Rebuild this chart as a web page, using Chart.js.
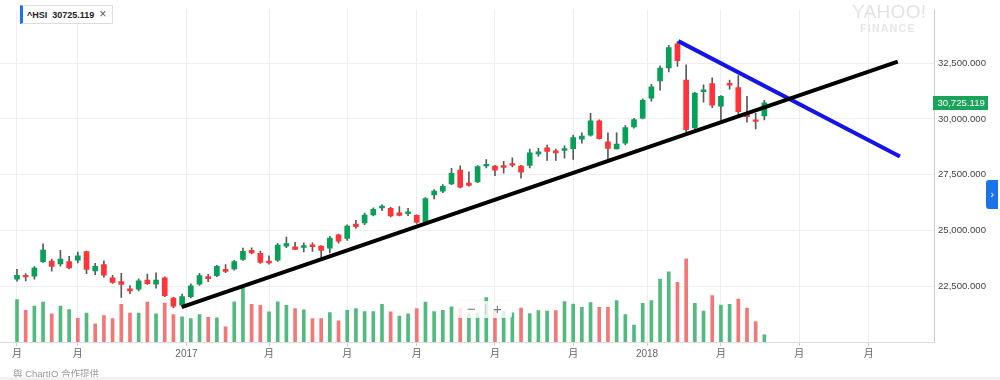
<!DOCTYPE html>
<html><head><meta charset="utf-8">
<script src="https://cdn.jsdelivr.net/npm/chart.js@4"></script>
<style>
html,body{margin:0;padding:0;background:#fff;}
#wrap{position:relative;width:1000px;height:380px;overflow:hidden;font-family:"Liberation Sans",Arial,"Noto Sans CJK TC",sans-serif;}
#c{position:absolute;left:0;top:0;}
#legend{position:absolute;left:20px;top:5px;height:17px;line-height:17px;border:1px solid #dcdcdc;border-left:3px solid #1a73e8;background:#fff;padding:0 6px 0 4px;font-size:9px;font-weight:bold;color:#222;white-space:nowrap;}
#legend .x{font-weight:normal;font-size:12px;color:#555;margin-left:5px;}
#wm1{position:absolute;left:852px;top:1px;font-size:19px;color:#e3e3e3;letter-spacing:0.3px;}
#wm2{position:absolute;left:860px;top:22px;font-size:10.5px;font-weight:bold;color:#e6e6e6;letter-spacing:1.3px;}
#tab{position:absolute;left:986px;top:180px;width:12px;height:29px;background:#1a73e8;border-radius:3px 0 0 3px;color:#fff;font-size:11px;line-height:29px;text-align:center;}
#zoom{position:absolute;left:458px;top:301px;width:54px;height:17px;background:rgba(255,255,255,0.82);border-radius:2px;box-shadow:0 0 2px rgba(0,0,0,0.08);color:#777;font-size:15px;line-height:17px;}
#zoom .m{position:absolute;left:9px;top:-1px;}
#zoom .d{position:absolute;left:27px;top:3px;width:1px;height:11px;background:#ccc;}
#zoom .p{position:absolute;left:35px;top:-1px;}
#credit{position:absolute;left:13px;top:366px;font-size:9.5px;color:#9a9a9a;}
#band{position:absolute;left:0;top:377px;width:1000px;height:3px;background:#f1f1f1;}
</style></head>
<body><div id="wrap">
<canvas id="c" width="1000" height="380"></canvas>
<div id="legend">^HSI&nbsp; 30725.119<span class="x">×</span></div>
<div id="wm1">YAHOO!</div>
<div id="wm2">FINANCE</div>
<div id="tab">›</div>
<div id="zoom"><span class="m">−</span><span class="d"></span><span class="p">+</span></div>
<div id="credit">與 ChartIQ 合作提供</div>
<div id="band"></div>
</div>
<script>
// Weekly ^HSI candles (week index 0..86)
const open  = [22820,22994,22950,23603,23629,23499,23603,23673,24052,23194,23473,22876,22715,22384,22367,22776,22600,22876,21975,21657,22036,22600,22932,22976,23255,23281,23703,24108,23978,23629,23673,24300,24270,24239,24356,24300,24213,24805,24648,25284,25345,25693,26011,25998,25793,25749,25676,25388,26590,26764,27086,27709,27130,27173,27896,27883,27914,28001,27883,27914,28436,28710,28567,28593,28667,29089,29276,29916,28972,28654,28915,29638,30030,30931,31702,32281,33369,31745,29594,31222,31584,30569,31597,31410,30221,29960,30134];
const high  = [23255,23064,23385,24400,23716,24108,23847,24038,24082,23529,23646,22994,23081,22528,22833,23050,23107,22919,22005,22149,22615,23081,23037,23442,23473,23660,24213,24226,24082,23864,24413,24705,24473,24443,24443,24326,24735,24835,25258,25458,25780,26011,26155,26041,26068,25998,25706,26477,26838,27056,27783,27896,27635,27914,28175,27926,28101,28262,27926,28654,28680,28828,28654,28797,29276,29377,30247,29960,29377,29377,29699,30030,30901,31553,32381,33295,33469,32424,31192,31527,31845,31048,31745,31945,31018,30247,30831];
const low   = [22733,22745,22820,23573,23181,23398,23281,23542,23064,23020,22907,22628,22005,22166,22297,22584,22410,22036,21539,21600,21975,22541,22702,22932,23107,23224,23660,23951,23529,23486,23616,24226,24139,24038,24065,23777,23995,24430,24561,25096,25258,25649,25894,25606,25649,25662,25315,25345,26416,26694,27056,26912,26982,27143,27809,27461,27565,27853,27347,27809,28332,28144,28144,28244,28188,28915,29233,29089,28218,28654,28841,29582,30003,30800,31292,32106,32355,29407,29407,30757,30508,29930,31336,30104,29855,29551,29960];
const close = [22994,22919,23311,24125,23385,23716,23325,23864,23255,23398,22994,22671,22584,22297,22745,22615,22776,22079,21613,22036,22515,22976,22845,23398,23168,23603,24065,23995,23573,23542,24343,24413,24152,24326,24270,24108,24661,24517,25197,25171,25693,25954,26098,25649,25676,25837,25357,26433,26764,26982,27565,26938,27025,27870,27970,27709,27826,27926,27609,28480,28523,28549,28480,28667,29159,29233,29916,29115,28680,28871,29612,29973,30831,31440,32281,33195,32616,29524,31162,31309,30613,31018,31510,30321,30104,29886,30725.119];
// weekly volume (relative units) and its colour (u = up, d = down)
const volume = [43.7,32.7,37,41,29,37,33.3,24.3,29.7,18.7,27.3,24,38.7,29.7,29.7,41,29,40,28.3,26,24,28.3,25.3,25,15.7,41.3,57,38.7,37.7,31,41.3,37.7,34.3,33,24,24,30.3,21.7,32.7,34.3,31.3,31.3,38.7,31,26.7,29,34.3,41,31.3,32.7,36.3,35,30,30,45.7,32,32,30,35,29.3,32.3,31.7,32.3,41.7,39,35.7,40.7,35.7,35.7,42.7,28.3,17.3,39.7,42.7,64.7,72.3,61.3,85.7,39.7,31.7,47.7,38,38.7,44.3,35,21,7.3];
const volDir = ("uduuduudud" + "ddddududdu" + "uududuuddu" + "uududduduu" + "uuuduuduuu" +
                "uduuuduudu" + "uuduuuuddu" + "uuuuuudduu" + "duudddu").split("");
// x-axis ticks (week index) and their labels
const tickPos    = [0, 7, 19.5, 29, 38, 46, 55, 64, 72.5, 81, 90, 98];
const tickLabels = ['月','月','2017','月','月','月','月','月','2018','月','月','月'];
const yTicks = [22500, 25000, 27500, 30000, 32500];
// drawn trend lines (week index, price)
const supportX = [18.95, 101.35], supportY = [21570, 32572];
const resistX  = [76.1, 101.6],   resistY  = [33487, 28318];
const lastPrice = 30725.119;

const idx = open.map((_, i) => i);
const UP='#07a058', DN='#ff3338', VUP='rgba(58,176,108,0.88)', VDN='rgba(242,100,100,0.88)';
const fmt = v => Number(v).toLocaleString('en-US',{minimumFractionDigits:3,maximumFractionDigits:3});

const priceTag = {id:'priceTag', afterDraw(c){
  const y = c.scales.y.getPixelForValue(lastPrice), g = c.ctx;
  g.save(); g.fillStyle='#1ba35b'; g.fillRect(933, Math.round(y)-7, 55, 14);
  g.fillStyle='#fff'; g.font='9.6px "Liberation Sans", Arial'; g.textBaseline='middle'; g.textAlign='left';
  g.fillText(fmt(lastPrice), 937.5, y+0.5); g.restore();
}};

new Chart(document.getElementById('c'), {
  type:'bar',
  data:{datasets:[
    {type:'line', label:'support', data: supportX.map((x,i)=>({x, y:supportY[i]})), borderColor:'#000', borderWidth:4, pointRadius:0, order:0, yAxisID:'y'},
    {type:'line', label:'resistance', data: resistX.map((x,i)=>({x, y:resistY[i]})), borderColor:'#1414e8', borderWidth:4, pointRadius:0, order:0, yAxisID:'y'},
    {label:'body', data: idx.map(i=>({x:i, y:[open[i], close[i]]})), backgroundColor: idx.map(i=> close[i]>=open[i]?UP:DN), barThickness:5, grouped:false, minBarLength:1.5, order:1, yAxisID:'y'},
    {label:'wick', data: idx.map(i=>({x:i, y:[low[i], high[i]]})), backgroundColor:'#5a5a5a', barThickness:1, grouped:false, order:2, yAxisID:'y'},
    {label:'volume', data: idx.map(i=>({x:i, y:volume[i]})), backgroundColor: idx.map(i=> volDir[i]==='u'?VUP:VDN), barThickness:3, grouped:false, order:3, yAxisID:'yv'}
  ]},
  options:{
    responsive:false, animation:false, devicePixelRatio:1,
    layout:{padding:{left:0,right:0,top:0,bottom:18}},
    plugins:{legend:{display:false}, tooltip:{enabled:false}},
    scales:{
      x:{type:'linear', min:-1.956, max:105.52, offset:false,
        afterBuildTicks: s => { s.ticks = tickPos.map(v=>({value:v})); },
        afterFit: s => { s.height = 20; },
        ticks:{callback:(v,i)=>tickLabels[i], autoSkip:false, maxRotation:0, color:'#666', padding:2, font:{size:10, family:'"Liberation Sans", Arial, "Noto Sans CJK TC"'}},
        grid:{offset:false, color:'#eeeeee', tickColor:'#d0d0d0', tickLength:4},
        border:{color:'#dddddd'}},
      y:{position:'right', min:20003, max:34893,
        afterBuildTicks: s => { s.ticks = yTicks.map(v=>({value:v})); },
        afterFit: s => { s.width = 66; },
        ticks:{callback: v=>fmt(v), color:'#444', padding:4, font:{size:9.6, family:'"Liberation Sans", Arial'}},
        grid:{color:'#eeeeee', drawTicks:false},
        border:{color:'#cccccc'}},
      yv:{display:false, min:0, max:342}
    }
  },
  plugins:[priceTag]
});
</script>
</body></html>
